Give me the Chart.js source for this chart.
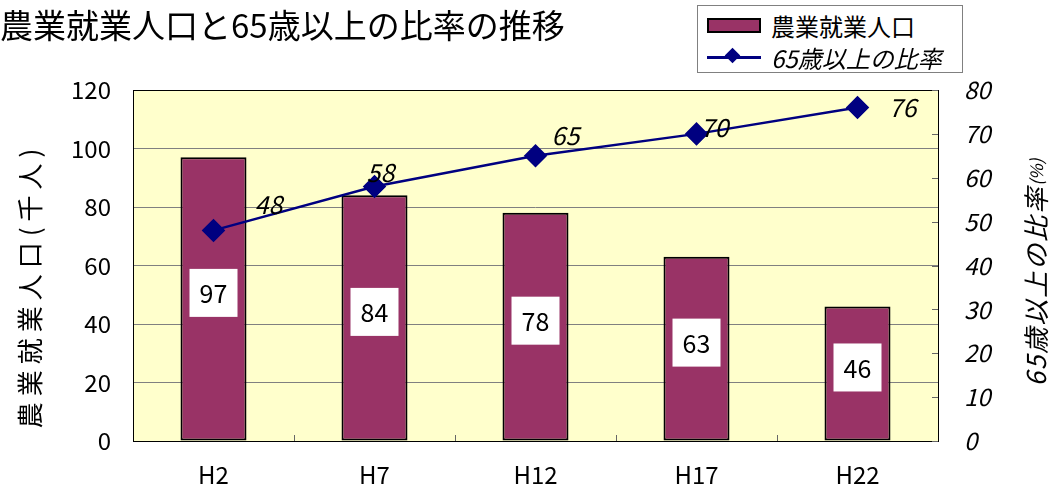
<!DOCTYPE html>
<html>
<head>
<meta charset="utf-8">
<script src="https://cdn.jsdelivr.net/npm/chart.js@4"></script>
<style>
  body { margin: 0; background: #fff; font-family: "Noto Sans CJK JP", sans-serif; }
  #wrap { position: relative; width: 1064px; height: 492px; }
  #title { position: absolute; left: 0; top: 0px; font-size: 33px; color: #000; white-space: nowrap; }
  #legend { position: absolute; left: 697px; top: 5px; width: 264px; height: 66px; border: 1px solid #808080; background: #fff; }
  .row { position: absolute; left: 9px; height: 30px; display: flex; align-items: center; font-size: 24px; white-space: nowrap; }
  .swatch { width: 50px; height: 11px; background: #993366; border: 2px solid #000; margin-right: 10px; }
  .lineKey { position: relative; width: 54px; height: 3px; background: #000080; margin-right: 10px; }
  .lineKey::after { content: ""; position: absolute; left: 20px; top: -6px; width: 11px; height: 11px; background: #000080; transform: rotate(45deg); }
</style>
</head>
<body>
<div id="wrap">
  <canvas id="chart" width="1064" height="492"></canvas>
  <div id="title">農業就業人口と65歳以上の比率の推移</div>
  <div id="legend">
    <div class="row" style="top:4px"><span class="swatch"></span>農業就業人口</div>
    <div class="row" style="top:36px; font-style:italic"><span class="lineKey"></span>65歳以上の比率</div>
  </div>
</div>
<script>
// data
const categories = ['H2', 'H7', 'H12', 'H17', 'H22'];
const farmWorkers = [97, 84, 78, 63, 46];      // 農業就業人口 (千人)
const elderlyRatio = [48, 58, 65, 70, 76];     // 65歳以上の比率 (%)

const FONT = '"Noto Sans CJK JP", sans-serif';

// yellow plot background + frame + axis titles
const plotFrame = {
    id: 'plotFrame',
    beforeDraw(chart) {
        const { ctx, chartArea: a } = chart;
        ctx.save();
        ctx.fillStyle = '#FFFFCC';
        ctx.fillRect(a.left, a.top, a.right - a.left, a.bottom - a.top);
        ctx.restore();
    },
    afterDatasetsDraw(chart) {
        const { ctx, chartArea: a, scales } = chart;
        ctx.save();
        ctx.strokeStyle = '#000';
        ctx.lineWidth = 1;
        ctx.strokeRect(a.left + 0.5, a.top + 0.5, a.right - a.left, a.bottom - a.top);
        // small inside ticks on right axis
        ctx.strokeStyle = '#666';
        scales.y1.ticks.forEach((t, i) => {
            const y = Math.round(scales.y1.getPixelForTick(i)) + 0.5;
            ctx.beginPath(); ctx.moveTo(a.right, y); ctx.lineTo(a.right - 6, y); ctx.stroke();
        });
        // inside ticks between categories on x axis
        const step = (a.right - a.left) / categories.length;
        for (let i = 1; i < categories.length; i++) {
            const x = Math.round(a.left + step * i) + 0.5;
            ctx.beginPath(); ctx.moveTo(x, a.bottom); ctx.lineTo(x, a.bottom - 6); ctx.stroke();
        }

        // axis titles, both read bottom to top
        const midY = (a.top + a.bottom) / 2;
        ctx.fillStyle = '#000';
        ctx.textBaseline = 'middle';

        ctx.save();
        ctx.translate(30, midY + 20);
        ctx.rotate(-Math.PI / 2);
        ctx.textAlign = 'center';
        ctx.font = '26px ' + FONT;
        ctx.letterSpacing = '6px';
        ctx.fillText('農業就業人口(千人)', 0, 0);
        ctx.restore();

        ctx.save();
        ctx.translate(1036, midY + 7);
        ctx.rotate(-Math.PI / 2);
        ctx.textAlign = 'left';
        ctx.font = 'italic 26px ' + FONT;
        ctx.letterSpacing = '2px';
        const main = '65歳以上の比率';
        const small = '(%)';
        const w1 = ctx.measureText(main).width;
        ctx.font = 'italic 17px ' + FONT;
        ctx.letterSpacing = '0px';
        const w2 = ctx.measureText(small).width;
        const x0 = -(w1 + w2) / 2;
        ctx.font = 'italic 26px ' + FONT;
        ctx.letterSpacing = '2px';
        ctx.fillText(main, x0, 0);
        ctx.font = 'italic 17px ' + FONT;
        ctx.letterSpacing = '0px';
        ctx.fillText(small, x0 + w1, 1);
        ctx.restore();

        ctx.restore();
    }
};

// value labels: white boxes on bars, italic numbers beside line points
const valueLabels = {
    id: 'valueLabels',
    afterDatasetsDraw(chart) {
        const ctx = chart.ctx;
        ctx.save();
        ctx.textAlign = 'center';
        ctx.textBaseline = 'middle';
        chart.getDatasetMeta(0).data.forEach((bar, i) => {
            const cy = (bar.y + bar.base) / 2 - 6;
            ctx.fillStyle = '#fff';
            ctx.fillRect(bar.x - 24, cy - 24, 48, 48);
            ctx.fillStyle = '#000';
            ctx.font = '25px ' + FONT;
            ctx.fillText(String(farmWorkers[i]), bar.x, cy + 1);
        });
        const offs = [[55, -26], [6, -14], [30, -20], [18, -6], [45, 0]];
        chart.getDatasetMeta(1).data.forEach((pt, i) => {
            ctx.fillStyle = '#000';
            ctx.font = 'italic 25px ' + FONT;
            ctx.fillText(String(elderlyRatio[i]), pt.x + offs[i][0], pt.y + offs[i][1]);
        });
        ctx.restore();
    }
};

new Chart(document.getElementById('chart'), {
    data: {
        labels: categories,
        datasets: [
            {
                type: 'bar',
                label: '農業就業人口',
                data: farmWorkers,
                yAxisID: 'y',
                backgroundColor: '#993366',
                borderColor: '#000',
                borderWidth: 2,
                borderSkipped: false,
                categoryPercentage: 1,
                barPercentage: 0.41,
                order: 2
            },
            {
                type: 'line',
                label: '65歳以上の比率',
                data: elderlyRatio,
                yAxisID: 'y1',
                borderColor: '#000080',
                backgroundColor: '#000080',
                borderWidth: 2.5,
                pointStyle: 'rectRot',
                pointRadius: 10,
                pointHoverRadius: 10,
                tension: 0,
                order: 1
            }
        ]
    },
    options: {
        responsive: false,
        animation: false,
        layout: { padding: { top: 90, left: 0, right: 0, bottom: 0 } },
        plugins: {
            legend: { display: false },
            title: { display: false },
            tooltip: { enabled: false }
        },
        scales: {
            x: {
                offset: true,
                grid: { display: false },
                border: { display: false },
                ticks: { color: '#000', font: { family: FONT, size: 24 }, padding: 11 },
                afterFit(s) { s.height = 51; }
            },
            y: {
                position: 'left',
                min: 0, max: 120,
                ticks: { stepSize: 20, color: '#000', font: { family: FONT, size: 24 }, padding: 22 },
                grid: { color: '#808080', drawTicks: false },
                border: { display: false },
                afterFit(s) { s.width = 133; }
            },
            y1: {
                position: 'right',
                min: 0, max: 80,
                ticks: { stepSize: 10, color: '#000', font: { family: FONT, size: 24, style: 'italic' }, padding: 26 },
                grid: { drawOnChartArea: false, drawTicks: false },
                border: { display: false },
                afterFit(s) { s.width = 126; }
            }
        }
    },
    plugins: [plotFrame, valueLabels]
});
</script>
</body>
</html>
